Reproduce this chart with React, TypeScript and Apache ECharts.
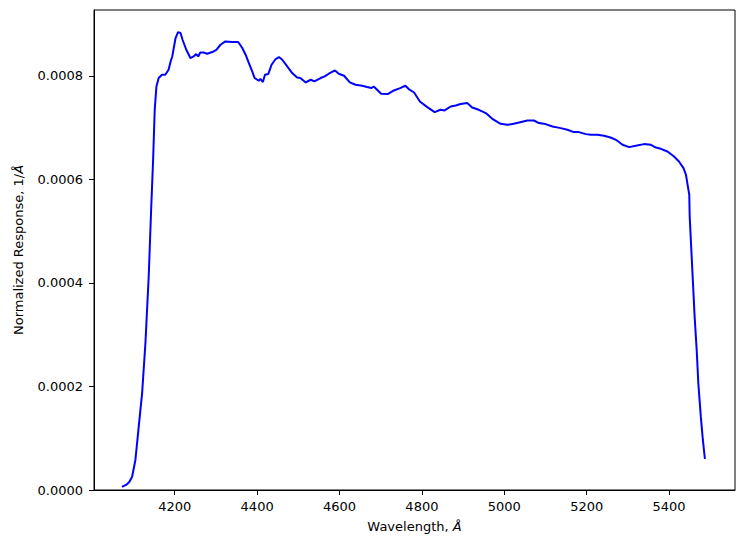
import { useEffect, useRef } from 'react';
import * as echarts from 'echarts';

// Wavelength in Angstrom
const wavelength = [
  4072, 4084, 4090, 4096.5, 4104.5, 4112.6, 4120.8, 4128.8, 4136.8, 4142.7,
  4147.5, 4151.4, 4155.5, 4161, 4169, 4177, 4185, 4190, 4194, 4202,
  4208, 4214,
  4219, 4228, 4238, 4246, 4252, 4257, 4262, 4270, 4279, 4291,
  4301, 4311, 4323, 4339, 4354, 4364, 4372, 4380, 4388, 4394,
  4404, 4408, 4414, 4419, 4427, 4435, 4445, 4453, 4461, 4473,
  4485, 4497, 4505, 4518, 4530, 4539, 4554, 4564, 4574, 4589,
  4598, 4611, 4625, 4639, 4655, 4667, 4677, 4683, 4693, 4701,
  4717, 4732, 4747, 4760, 4768, 4781, 4795, 4813, 4831, 4845,
  4855, 4870, 4882, 4894, 4910, 4922, 4938, 4955, 4971, 4991,
  5007, 5020, 5036, 5056, 5072, 5084, 5100, 5117, 5137, 5153,
  5169, 5181, 5198, 5210, 5226, 5242, 5258, 5271, 5287, 5303,
  5319, 5339, 5356, 5368, 5380, 5396, 5412, 5424, 5435, 5441,
  5445, 5449, 5450, 5454, 5458, 5462, 5467, 5471, 5477, 5482,
  5487,
];

// Normalized response, 1/Angstrom
const response = [
  0.06e-4, 0.11e-4, 0.16e-4, 0.257e-4, 0.58e-4, 1.223e-4, 1.869e-4, 2.835e-4, 4.122e-4, 5.411e-4,
  6.377e-4, 7.343e-4, 7.793e-4, 7.956e-4, 8.019e-4, 8.019e-4, 8.116e-4, 8.277e-4, 8.373e-4, 8.729e-4,
  8.844e-4, 8.825e-4,
  8.696e-4, 8.502e-4, 8.342e-4, 8.373e-4, 8.419e-4, 8.373e-4, 8.45e-4, 8.45e-4, 8.425e-4, 8.458e-4,
  8.502e-4, 8.599e-4, 8.663e-4, 8.651e-4, 8.651e-4, 8.535e-4, 8.406e-4, 8.245e-4, 8.083e-4, 7.956e-4,
  7.903e-4, 7.942e-4, 7.878e-4, 8.019e-4, 8.033e-4, 8.213e-4, 8.323e-4, 8.361e-4, 8.309e-4, 8.18e-4,
  8.052e-4, 7.967e-4, 7.956e-4, 7.871e-4, 7.923e-4, 7.89e-4, 7.956e-4, 7.987e-4, 8.039e-4, 8.103e-4,
  8.039e-4, 8.0e-4, 7.871e-4, 7.826e-4, 7.807e-4, 7.782e-4, 7.762e-4, 7.793e-4, 7.716e-4, 7.652e-4,
  7.646e-4, 7.716e-4, 7.762e-4, 7.807e-4, 7.743e-4, 7.677e-4, 7.503e-4, 7.395e-4, 7.299e-4, 7.343e-4,
  7.33e-4, 7.407e-4, 7.426e-4, 7.453e-4, 7.472e-4, 7.387e-4, 7.343e-4, 7.279e-4, 7.169e-4, 7.072e-4,
  7.053e-4, 7.067e-4, 7.098e-4, 7.136e-4, 7.136e-4, 7.086e-4, 7.067e-4, 7.02e-4, 6.989e-4, 6.957e-4,
  6.912e-4, 6.912e-4, 6.873e-4, 6.86e-4, 6.86e-4, 6.841e-4, 6.808e-4, 6.763e-4, 6.667e-4, 6.622e-4,
  6.647e-4, 6.68e-4, 6.667e-4, 6.614e-4, 6.589e-4, 6.537e-4, 6.441e-4, 6.344e-4, 6.216e-4, 6.087e-4,
  5.894e-4, 5.7e-4, 5.281e-4, 4.638e-4, 3.994e-4, 3.349e-4, 2.705e-4, 2.062e-4, 1.416e-4, 0.966e-4,
  0.599e-4,
];

const xTicks = [4200, 4400, 4600, 4800, 5000, 5200, 5400];
const yTicks = [0, 0.0002, 0.0004, 0.0006, 0.0008];

const FONT = '"DejaVu Sans", sans-serif';

export default function App() {
  const chartRef = useRef<HTMLDivElement>(null);

  useEffect(() => {
    if (!chartRef.current) return;
    const chart = echarts.init(chartRef.current, undefined, { renderer: 'svg' });

    chart.setOption({
      animation: false,
      backgroundColor: '#ffffff',
      textStyle: { fontFamily: FONT },
      grid: {
        left: 94,
        right: 8,
        top: 10,
        bottom: 59,
        show: true,
        borderColor: '#000000',
        borderWidth: 1,
        backgroundColor: 'transparent',
      },
      xAxis: {
        type: 'value',
        min: 4004,
        max: 5560,
        name: '{n|Wavelength, }{i|Å}',
        nameLocation: 'middle',
        nameGap: 30,
        nameTextStyle: {
          rich: {
            n: { fontFamily: FONT, fontSize: 13, color: '#000' },
            i: { fontFamily: FONT, fontSize: 13, color: '#000', fontStyle: 'italic' },
          },
        },
        axisLine: { show: true, onZero: false, lineStyle: { color: '#000', width: 1 } },
        axisTick: {
          show: true,
          length: 5,
          lineStyle: { color: '#000', width: 1 },
          customValues: xTicks,
        },
        axisLabel: {
          color: '#000',
          fontSize: 13,
          fontFamily: FONT,
          margin: 10,
          customValues: xTicks,
          formatter: (v: number) => String(v),
        },
        splitLine: { show: false },
      },
      yAxis: {
        type: 'value',
        min: 0,
        max: 0.000927,
        name: '{n|Normalized Response, 1/}{i|Å}',
        nameLocation: 'middle',
        nameRotate: 90,
        nameGap: 69,
        nameTextStyle: {
          rich: {
            n: { fontFamily: FONT, fontSize: 13, color: '#000' },
            i: { fontFamily: FONT, fontSize: 13, color: '#000', fontStyle: 'italic' },
          },
        },
        axisLine: { show: true, lineStyle: { color: '#000', width: 1 } },
        axisTick: {
          show: true,
          length: 5,
          lineStyle: { color: '#000', width: 1 },
          customValues: yTicks,
        },
        axisLabel: {
          color: '#000',
          fontSize: 13,
          fontFamily: FONT,
          margin: 11,
          customValues: yTicks,
          formatter: (v: number) => v.toFixed(4),
        },
        splitLine: { show: false },
      },
      series: [
        {
          type: 'line',
          data: wavelength.map((w, i) => [w, response[i]]),
          symbol: 'none',
          smooth: false,
          lineStyle: { color: '#0000ff', width: 2 },
          itemStyle: { color: '#0000ff' },
        },
      ],
    });

    return () => {
      chart.dispose();
    };
  }, []);

  return (
    <div
      ref={chartRef}
      style={{ position: 'absolute', left: 0, top: 0, width: 743, height: 549 }}
    />
  );
}
